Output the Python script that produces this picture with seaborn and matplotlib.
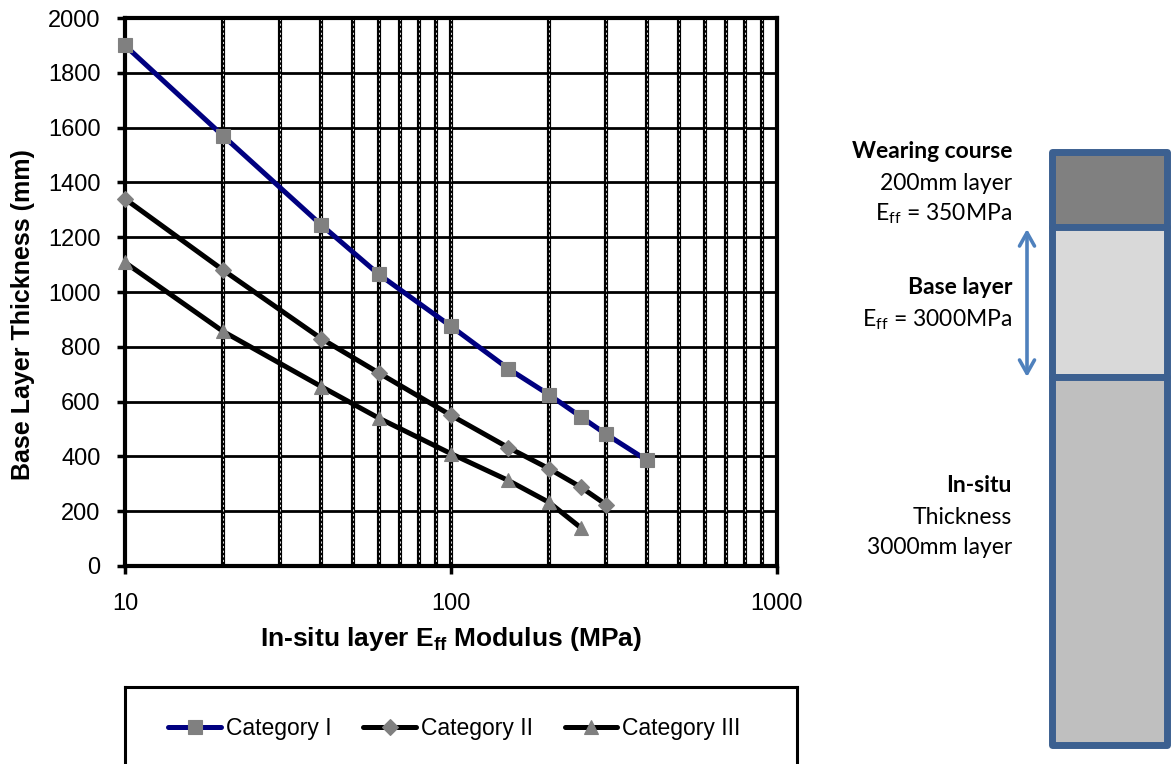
import matplotlib
matplotlib.use("Agg")
import matplotlib.pyplot as plt
import matplotlib.patches as mpatches
from matplotlib.ticker import LogLocator, NullFormatter, FixedLocator, FixedFormatter
import numpy as np
import pandas as pd
import seaborn as sns

# ===================== data =====================
cat1_modulus = [10, 20, 40, 60, 100, 150, 200, 250, 300, 400]
cat1_thickness = [1900, 1570, 1245, 1065, 875, 720, 625, 545, 480, 385]

cat2_modulus = [10, 20, 40, 60, 100, 150, 200, 250, 300]
cat2_thickness = [1340, 1080, 830, 705, 550, 432, 355, 288, 223]

cat3_modulus = [10, 20, 40, 60, 100, 150, 200, 250]
cat3_thickness = [1108, 856, 655, 540, 410, 312, 232, 140]

series_names = ["Category I", "Category II", "Category III"]
line_colors = ["#000080", "black", "black"]
markers = ["s", "D", "^"]
marker_sizes = [10, 8.5, 10.5]

y_ticks = list(range(0, 2001, 200))
x_ticks = [10, 100, 1000]

layer_titles = ["Wearing course", "Base layer", "In-situ"]

sns.set_theme(style="white")
plt.rcParams["font.family"] = ["Liberation Sans", "DejaVu Sans"]
plt.rcParams["text.color"] = "black"

fig = plt.figure(figsize=(11.71, 7.64), dpi=100)
ax = fig.add_axes([0.1067, 0.2592, 0.5568, 0.7172])

series = [(cat1_modulus, cat1_thickness), (cat2_modulus, cat2_thickness),
          (cat3_modulus, cat3_thickness)]
for (xs, ys), name, col, mk, ms in zip(series, series_names, line_colors, markers, marker_sizes):
    df = pd.DataFrame({"E": xs, "T": ys})
    sns.lineplot(data=df, x="E", y="T", ax=ax, color=col, lw=3.6, marker=mk,
                 markersize=ms, markerfacecolor="#808080", markeredgecolor="#808080",
                 markeredgewidth=0.8, errorbar=None, label=name, zorder=5, clip_on=False)

ax.set_xscale("log")
ax.set_xlim(10, 1000)
ax.set_ylim(0, 2000)
ax.xaxis.set_major_locator(FixedLocator(x_ticks))
ax.xaxis.set_major_formatter(FixedFormatter([str(v) for v in x_ticks]))
ax.xaxis.set_minor_locator(LogLocator(base=10, subs=np.arange(2, 10)))
ax.xaxis.set_minor_formatter(NullFormatter())
ax.set_yticks(y_ticks)

# grid: horizontal solid, vertical black with white dashes
ax.grid(False)
ax.yaxis.grid(True, color="black", lw=2.0, zorder=1)
vlocs = [v for v in list(ax.xaxis.get_minorticklocs()) + [100] if 10 < v < 1000]
ax.vlines(vlocs, 0, 2000, colors="black", lw=3.0, zorder=1)
ax.vlines(vlocs, 0, 2000, colors="white", lw=0.6, linestyles=(0, (2.5, 3)), zorder=1.5)

for sp in ax.spines.values():
    sp.set_color("black")
    sp.set_linewidth(3)
ax.tick_params(axis="both", which="major", direction="out", length=5.5, width=2.5,
               color="black", labelsize=17, labelcolor="black", left=True, bottom=True)
ax.tick_params(axis="x", which="major", pad=14)
ax.tick_params(axis="y", which="major", pad=12)
ax.tick_params(axis="x", which="minor", length=0)

ax.set_ylabel("Base Layer Thickness (mm)", fontsize=18, fontweight="bold", color="black")
ax.yaxis.set_label_coords(-0.138, 0.458)
ax.set_xlabel(r"In-situ layer E$\mathregular{_{ff}}$ Modulus (MPa)", fontsize=19,
              fontweight="bold", labelpad=7, color="black")

handles, labels = ax.get_legend_handles_labels()
if ax.get_legend() is not None:
    ax.get_legend().remove()

# legend box below
lax = fig.add_axes([0.1067, -0.02, 0.574, 0.121])
lax.set_xticks([])
lax.set_yticks([])
for sp in lax.spines.values():
    sp.set_color("black")
    sp.set_linewidth(2.2)
lax.legend(handles, labels, loc="center", ncol=3, frameon=False, fontsize=16.5,
           handlelength=2.3, handletextpad=0.2, columnspacing=1.4, labelcolor="black",
           bbox_to_anchor=(0.49, 0.55))

# layer diagram on the right (pixel coordinates)
dax = fig.add_axes([0, 0, 1, 1], zorder=-1)
dax.set_xlim(0, 1171)
dax.set_ylim(764, 0)
dax.axis("off")
border = "#3C6090"
layer_fills = ["#808080", "#D9D9D9", "#BFBFBF"]
bounds = [(152, 227), (227, 377), (377, 745)]
for (top, bot), fc in zip(bounds, layer_fills):
    dax.add_patch(mpatches.Rectangle((1052, top), 115, bot - top, facecolor=fc,
                                     edgecolor=border, lw=5, joinstyle="round"))
dax.annotate("", xy=(1027, 229), xytext=(1027, 377),
             arrowprops=dict(arrowstyle="<->,head_length=0.8,head_width=0.45",
                             color="#4F81BD", lw=2.6, shrinkA=0, shrinkB=0))

tkw = dict(ha="right", va="center", fontsize=16.5, family=["Lato", "DejaVu Sans"], color="black")
dax.text(1012, 152, layer_titles[0], fontweight="bold", **tkw)
dax.text(1012, 183, "200mm layer", **tkw)
dax.text(1012, 214, r"E$\mathregular{_{ff}}$ = 350MPa", **tkw)
dax.text(1012, 288, layer_titles[1], fontweight="bold", **tkw)
dax.text(1012, 320, r"E$\mathregular{_{ff}}$ = 3000MPa", **tkw)
dax.text(1012, 486, layer_titles[2], fontweight="bold", **tkw)
dax.text(1012, 517, "Thickness", **tkw)
dax.text(1012, 548, "3000mm layer", **tkw)

fig.savefig("out.png", dpi=100)
